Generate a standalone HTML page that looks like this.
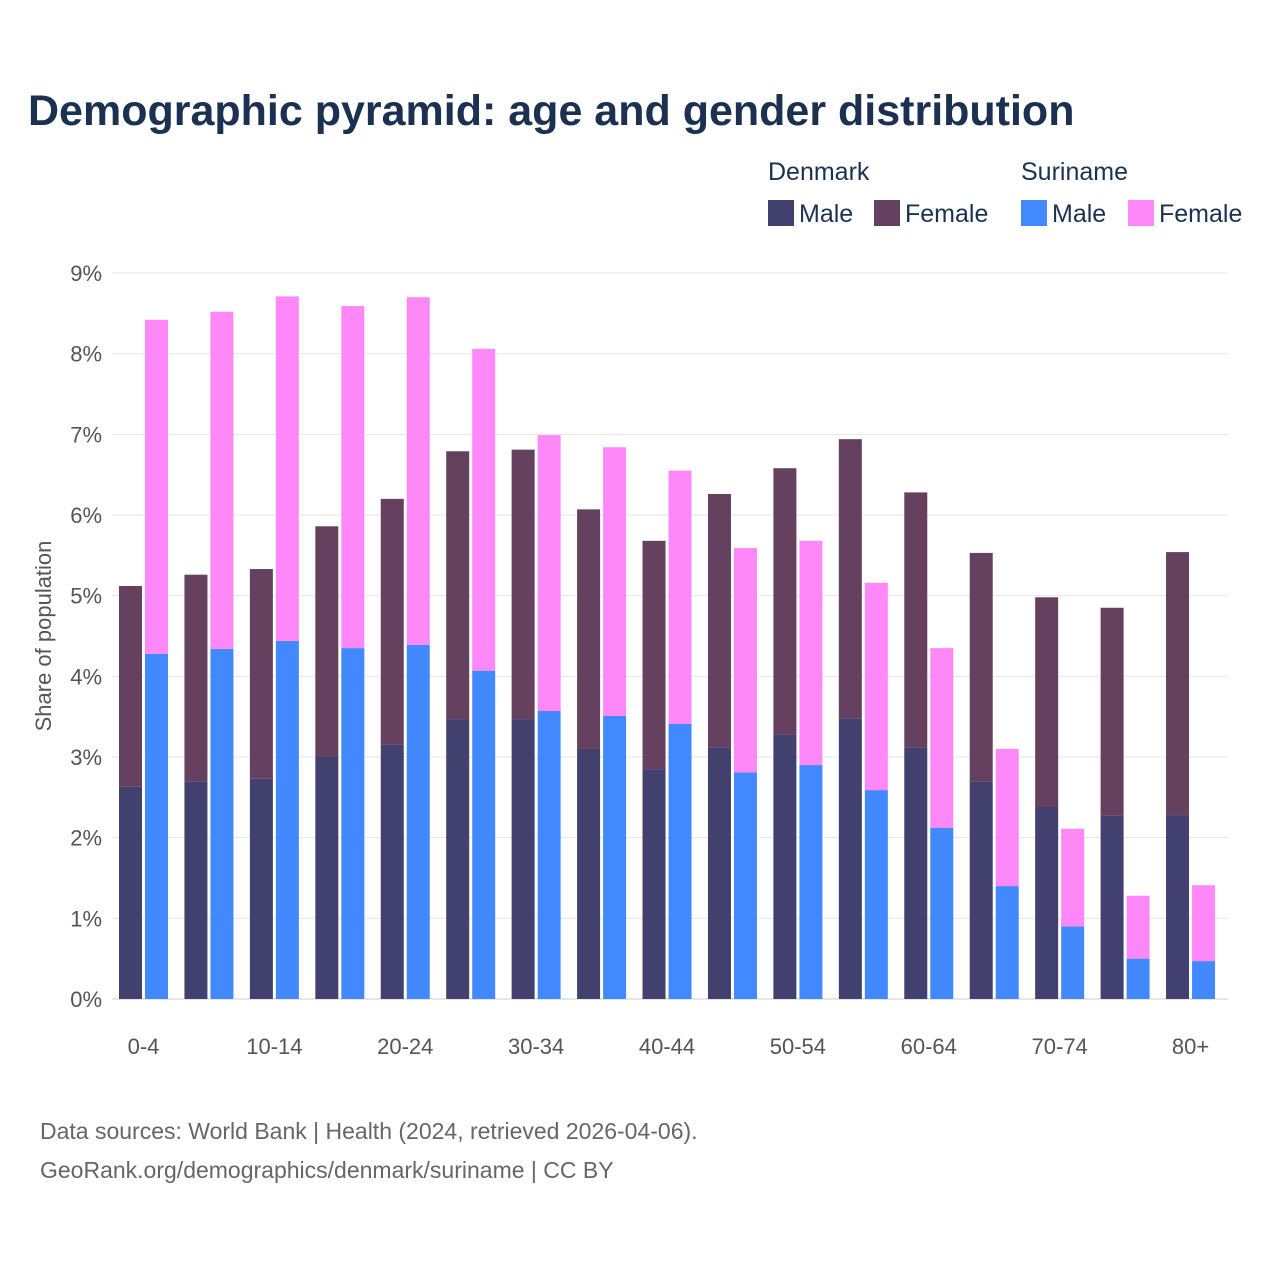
<!DOCTYPE html>
<html><head><meta charset="utf-8"><style>
body{margin:0;background:#fff;width:1280px;height:1280px;overflow:hidden}
svg{display:block;font-family:"Liberation Sans",sans-serif}
</style></head><body>
<svg id="chart" width="1280" height="1280" viewBox="0 0 1280 1280">
<text x="28" y="125" font-size="43" font-weight="bold" fill="#1b3152">Demographic pyramid: age and gender distribution</text>
<g font-size="25" fill="#1b3152">
<text x="768" y="180">Denmark</text>
<text x="1021" y="180">Suriname</text>
<rect x="768" y="200" width="26" height="26" fill="#41406f"/>
<text x="799" y="222">Male</text>
<rect x="874" y="200" width="26" height="26" fill="#66405f"/>
<text x="905" y="222">Female</text>
<rect x="1021" y="200" width="26" height="26" fill="#4289ff"/>
<text x="1052" y="222">Male</text>
<rect x="1128" y="200" width="26" height="26" fill="#ff88f8"/>
<text x="1159" y="222">Female</text>
</g>
<text transform="translate(51,636) rotate(-90)" text-anchor="middle" font-size="22" fill="#555">Share of population</text>
<g id="grid"></g><g id="bars"></g><g id="xlabels"></g>
<text x="40" y="1139" font-size="23" fill="#666">Data sources: World Bank | Health (2024, retrieved 2026-04-06).</text>
<text x="40" y="1178" font-size="23" fill="#666">GeoRank.org/demographics/denmark/suriname | CC BY</text>
</svg>
<script>
const categories=["0-4","5-9","10-14","15-19","20-24","25-29","30-34","35-39","40-44","45-49","50-54","55-59","60-64","65-69","70-74","75-79","80+"];
const dkMale=[2.63,2.70,2.73,3.00,3.15,3.47,3.47,3.10,2.85,3.12,3.28,3.48,3.12,2.70,2.38,2.27,2.28];
const dkFemale=[2.49,2.56,2.60,2.86,3.05,3.32,3.34,2.97,2.83,3.14,3.30,3.46,3.16,2.83,2.60,2.58,3.26];
const srMale=[4.28,4.34,4.44,4.35,4.39,4.07,3.57,3.51,3.41,2.81,2.90,2.59,2.12,1.40,0.90,0.50,0.47];
const srFemale=[4.14,4.18,4.27,4.24,4.31,3.99,3.42,3.33,3.14,2.78,2.78,2.57,2.23,1.70,1.21,0.78,0.94];
const yTicks=[0,1,2,3,4,5,6,7,8,9];
const NS="http://www.w3.org/2000/svg";
const x0=112,x1=1228,y0=999,y9=273;
const band=65.44;
const yS=v=>y0-(v/9)*(y0-y9);
const xC=i=>143.5+band*i;
function mk(t,a,p){const e=document.createElementNS(NS,t);for(const k in a)e.setAttribute(k,a[k]);p.appendChild(e);return e;}
const grid=document.getElementById('grid');
yTicks.forEach(t=>{
 const l=mk('line',{x1:x0,x2:x1,y1:yS(t),y2:yS(t),stroke:t===0?'#ccc':'#e6e6e6','stroke-width':1},grid);
 
 
 const tx=mk('text',{x:102,y:yS(t)+8,'text-anchor':'end','font-size':22,fill:'#555'},grid);
 tx.textContent=t+'%';
 
 
});
const bars=document.getElementById('bars');
const bw=23;
function bar(x,v0,v1,c,name){
 const r=mk('rect',{x:x,y:yS(v1),width:bw,height:yS(v0)-yS(v1),fill:c},bars);
 
 
}
categories.forEach((c,i)=>{
 const cx=xC(i);
 bar(cx-bw-1.5,0,dkMale[i],'#41406f','bar-dk-male-'+c);
 bar(cx-bw-1.5,dkMale[i],dkMale[i]+dkFemale[i],'#66405f','bar-dk-female-'+c);
 bar(cx+1.5,0,srMale[i],'#4289ff','bar-sr-male-'+c);
 bar(cx+1.5,srMale[i],srMale[i]+srFemale[i],'#ff88f8','bar-sr-female-'+c);
 if(i%2===0){
  const t=mk('text',{x:cx,y:1054,'text-anchor':'middle','font-size':22,fill:'#555'},document.getElementById('xlabels'));
  t.textContent=c;
  
  
 }
});
</script>
</body></html>
